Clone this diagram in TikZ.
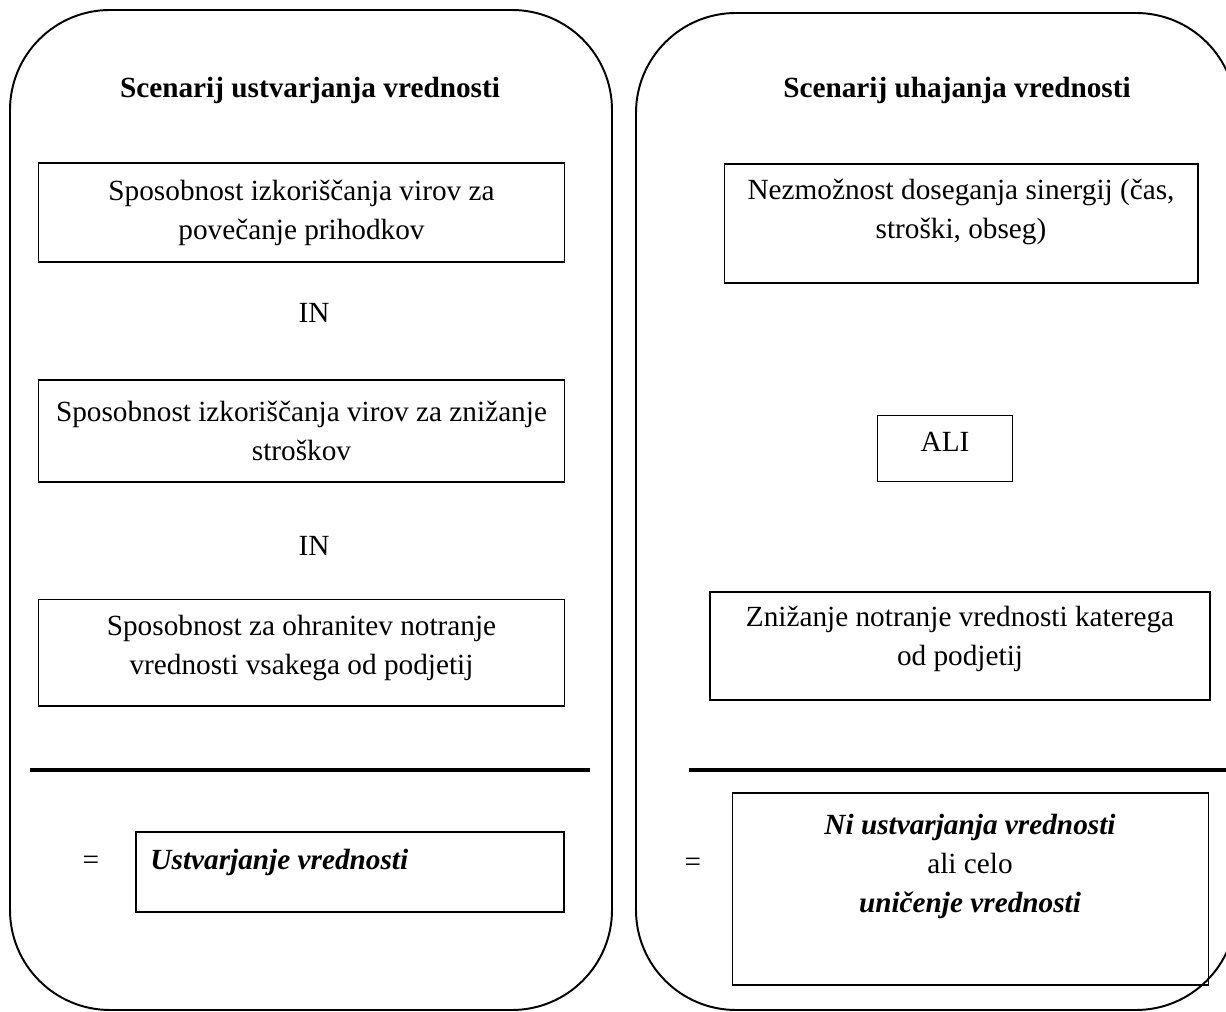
\documentclass[tikz,border=0pt]{standalone}
\usepackage{fontspec}
\setmainfont{Liberation Serif}
\usetikzlibrary{positioning}

\begin{document}
\begin{tikzpicture}[%
        x=0.41pt,
        y=-0.41pt,
        every node/.style={font=\fontsize{12}{16}\selectfont},
        panel/.style={%
          draw,
          line width=0.8pt,
          rounded corners=41pt
        },
        box/.style={draw, line width=0.45pt, inner sep=0pt},
        word/.style={align=center, inner sep=0pt},
        bar/.style={line width=2pt}
      ]
      \useasboundingbox (0,0) rectangle (1226,1012);
      \clip (0,0) rectangle (1226,1012);
      % the two panels
      \draw[panel] (10,10) rectangle (612,1010);
      \draw[panel] (636,13) rectangle (1236,1010);
      % left panel
      \node[word] (titleL) at (310,90) {\textbf{Scenarij ustvarjanja vrednosti}};
      \node[box, minimum width=216pt, minimum height=40.6pt] (boxA) at (301.5,212.5) {};
      \node[word] (txtA) at (boxA) {Sposobnost izkoriščanja virov za\\povečanje prihodkov};
      \node[word] (inA) at (314,313) {IN};
      \node[box, minimum width=216pt, minimum height=41.8pt] (boxB) at (301.5,431) {};
      \node[word] (txtB) at (boxB) {Sposobnost izkoriščanja virov za znižanje\\stroškov};
      \node[word] (inB) at (314,546) {IN};
      \node[box, minimum width=216pt, minimum height=43.5pt] (boxC) at (301.5,653) {};
      \node[word] (txtC) at (301.5,648) {Sposobnost za ohranitev notranje\\vrednosti vsakega od podjetij};
      \draw[bar] (30,770) -- (590,770);
      \node[word] (eqL) at (91,863) {=};
      \node[box, minimum width=175.5pt, minimum height=32.8pt] (boxD) at (350,872) {};
      \node[word, anchor=west] (txtD) at (150,862) {\textbf{\textit{Ustvarjanje vrednosti}}};
      % right panel
      \node[word] (titleR) at (957,90) {\textbf{Scenarij uhajanja vrednosti}};
      \node[box, minimum width=194.3pt, minimum height=48.8pt] (boxE) at (961,223.5) {};
      \node[word] (txtE) at (961,212) {Nezmožnost doseganja sinergij (čas,\\stroški, obseg)};
      \node[box, minimum width=55pt, minimum height=26.7pt] (boxF) at (945,448.5) {};
      \node[word] (txtF) at (945,442) {ALI};
      \node[box, minimum width=205pt, minimum height=44.3pt] (boxG) at (960,646) {};
      \node[word] (txtG) at (960,639) {Znižanje notranje vrednosti katerega\\od podjetij};
      \draw[bar] (689,770) -- (1230,770);
      \node[word] (eqR) at (693,865) {=};
      \node[box, minimum width=194.8pt, minimum height=78.7pt] (boxH) at (970.5,889) {};
      \node[word] (txtH) at (970,866) {\textbf{\textit{Ni ustvarjanja vrednosti}}\\ali celo\\\textbf{\textit{uničenje vrednosti}}};
\end{tikzpicture}
\end{document}
